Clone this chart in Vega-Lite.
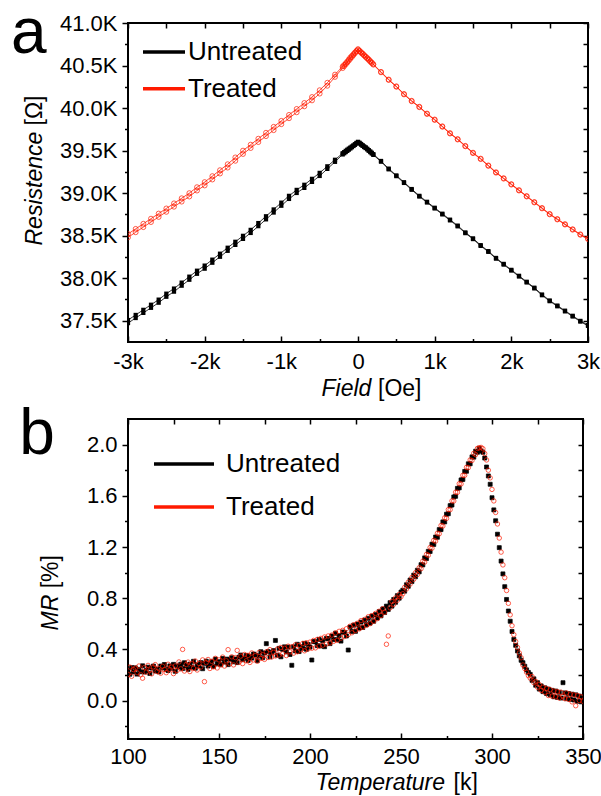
{
"$schema": "https://vega.github.io/schema/vega-lite/v6.json",
"padding": {"left": 9, "top": 0, "right": 0, "bottom": 0},
"background": "white",
"spacing": 0,
"config": {
 "font": "Liberation Sans",
 "view": {"stroke": "black", "strokeWidth": 2},
 "axis": {"domain": false, "grid": false, "labelFont": "Liberation Sans", "labelFontSize": 22, "labelColor": "black", "tickColor": "black", "tickWidth": 1.5, "titleFont": "Liberation Sans", "titleFontSize": 23, "titleColor": "black", "titleFontWeight": "normal", "labelOverlap": false, "labelFlush": false, "labelBound": false},
 "legend": {"labelFont": "Liberation Sans", "labelFontSize": 26, "labelColor": "black", "padding": 0}
},
"datasets": {
"field": [
{"H":-3000,"sw":"a","Untreated":37472,"Treated":38480},
{"H":-2900,"sw":"a","Untreated":37532,"Treated":38540},
{"H":-2800,"sw":"a","Untreated":37592,"Treated":38600},
{"H":-2700,"sw":"a","Untreated":37652,"Treated":38660},
{"H":-2600,"sw":"a","Untreated":37712,"Treated":38720},
{"H":-2500,"sw":"a","Untreated":37782,"Treated":38780},
{"H":-2400,"sw":"a","Untreated":37842,"Treated":38840},
{"H":-2300,"sw":"a","Untreated":37912,"Treated":38900},
{"H":-2200,"sw":"a","Untreated":37982,"Treated":38960},
{"H":-2100,"sw":"a","Untreated":38052,"Treated":39030},
{"H":-2000,"sw":"a","Untreated":38112,"Treated":39090},
{"H":-1900,"sw":"a","Untreated":38182,"Treated":39160},
{"H":-1800,"sw":"a","Untreated":38252,"Treated":39230},
{"H":-1700,"sw":"a","Untreated":38322,"Treated":39300},
{"H":-1600,"sw":"a","Untreated":38392,"Treated":39380},
{"H":-1500,"sw":"a","Untreated":38462,"Treated":39460},
{"H":-1400,"sw":"a","Untreated":38532,"Treated":39530},
{"H":-1300,"sw":"a","Untreated":38612,"Treated":39600},
{"H":-1200,"sw":"a","Untreated":38692,"Treated":39670},
{"H":-1100,"sw":"a","Untreated":38772,"Treated":39740},
{"H":-1000,"sw":"a","Untreated":38852,"Treated":39810},
{"H":-900,"sw":"a","Untreated":38932,"Treated":39880},
{"H":-800,"sw":"a","Untreated":39002,"Treated":39950},
{"H":-700,"sw":"a","Untreated":39062,"Treated":40020},
{"H":-600,"sw":"a","Untreated":39132,"Treated":40090},
{"H":-500,"sw":"a","Untreated":39202,"Treated":40170},
{"H":-400,"sw":"a","Untreated":39285,"Treated":40262},
{"H":-300,"sw":"a","Untreated":39368,"Treated":40366},
{"H":-200,"sw":"a","Untreated":39455,"Treated":40470},
{"H":-180,"sw":"a","Untreated":39469,"Treated":40492},
{"H":-160,"sw":"a","Untreated":39483,"Treated":40514},
{"H":-140,"sw":"a","Untreated":39497,"Treated":40535},
{"H":-120,"sw":"a","Untreated":39511,"Treated":40557},
{"H":-100,"sw":"a","Untreated":39525,"Treated":40579},
{"H":-80,"sw":"a","Untreated":39540,"Treated":40600},
{"H":-60,"sw":"a","Untreated":39554,"Treated":40622},
{"H":-40,"sw":"a","Untreated":39568,"Treated":40644},
{"H":-20,"sw":"a","Untreated":39583,"Treated":40665},
{"H":0,"sw":"a","Untreated":39597,"Treated":40687},
{"H":20,"sw":"a","Untreated":39585,"Treated":40668},
{"H":40,"sw":"a","Untreated":39570,"Treated":40650},
{"H":60,"sw":"a","Untreated":39556,"Treated":40635},
{"H":80,"sw":"a","Untreated":39542,"Treated":40617},
{"H":100,"sw":"a","Untreated":39530,"Treated":40600},
{"H":120,"sw":"a","Untreated":39515,"Treated":40582},
{"H":140,"sw":"a","Untreated":39498,"Treated":40565},
{"H":160,"sw":"a","Untreated":39482,"Treated":40545},
{"H":180,"sw":"a","Untreated":39466,"Treated":40528},
{"H":200,"sw":"a","Untreated":39450,"Treated":40510},
{"H":300,"sw":"a","Untreated":39370,"Treated":40420},
{"H":400,"sw":"a","Untreated":39280,"Treated":40330},
{"H":500,"sw":"a","Untreated":39200,"Treated":40250},
{"H":600,"sw":"a","Untreated":39120,"Treated":40160},
{"H":700,"sw":"a","Untreated":39040,"Treated":40080},
{"H":800,"sw":"a","Untreated":38960,"Treated":40010},
{"H":900,"sw":"a","Untreated":38890,"Treated":39930},
{"H":1000,"sw":"a","Untreated":38820,"Treated":39860},
{"H":1100,"sw":"a","Untreated":38750,"Treated":39780},
{"H":1200,"sw":"a","Untreated":38680,"Treated":39700},
{"H":1300,"sw":"a","Untreated":38610,"Treated":39630},
{"H":1400,"sw":"a","Untreated":38530,"Treated":39550},
{"H":1500,"sw":"a","Untreated":38460,"Treated":39470},
{"H":1600,"sw":"a","Untreated":38380,"Treated":39400},
{"H":1700,"sw":"a","Untreated":38310,"Treated":39320},
{"H":1800,"sw":"a","Untreated":38230,"Treated":39240},
{"H":1900,"sw":"a","Untreated":38160,"Treated":39170},
{"H":2000,"sw":"a","Untreated":38090,"Treated":39100},
{"H":2100,"sw":"a","Untreated":38020,"Treated":39030},
{"H":2200,"sw":"a","Untreated":37950,"Treated":38960},
{"H":2300,"sw":"a","Untreated":37880,"Treated":38890},
{"H":2400,"sw":"a","Untreated":37800,"Treated":38820},
{"H":2500,"sw":"a","Untreated":37730,"Treated":38750},
{"H":2600,"sw":"a","Untreated":37670,"Treated":38690},
{"H":2700,"sw":"a","Untreated":37610,"Treated":38630},
{"H":2800,"sw":"a","Untreated":37550,"Treated":38570},
{"H":2900,"sw":"a","Untreated":37490,"Treated":38510},
{"H":3000,"sw":"a","Untreated":37440,"Treated":38460},
{"H":-3000,"sw":"b","Untreated":37508,"Treated":38520},
{"H":-2900,"sw":"b","Untreated":37568,"Treated":38580},
{"H":-2800,"sw":"b","Untreated":37628,"Treated":38640},
{"H":-2700,"sw":"b","Untreated":37688,"Treated":38700},
{"H":-2600,"sw":"b","Untreated":37748,"Treated":38760},
{"H":-2500,"sw":"b","Untreated":37818,"Treated":38820},
{"H":-2400,"sw":"b","Untreated":37878,"Treated":38880},
{"H":-2300,"sw":"b","Untreated":37948,"Treated":38940},
{"H":-2200,"sw":"b","Untreated":38018,"Treated":39000},
{"H":-2100,"sw":"b","Untreated":38088,"Treated":39070},
{"H":-2000,"sw":"b","Untreated":38148,"Treated":39130},
{"H":-1900,"sw":"b","Untreated":38218,"Treated":39200},
{"H":-1800,"sw":"b","Untreated":38288,"Treated":39270},
{"H":-1700,"sw":"b","Untreated":38358,"Treated":39340},
{"H":-1600,"sw":"b","Untreated":38428,"Treated":39420},
{"H":-1500,"sw":"b","Untreated":38498,"Treated":39500},
{"H":-1400,"sw":"b","Untreated":38568,"Treated":39570},
{"H":-1300,"sw":"b","Untreated":38648,"Treated":39640},
{"H":-1200,"sw":"b","Untreated":38728,"Treated":39710},
{"H":-1100,"sw":"b","Untreated":38808,"Treated":39780},
{"H":-1000,"sw":"b","Untreated":38888,"Treated":39850},
{"H":-900,"sw":"b","Untreated":38968,"Treated":39920},
{"H":-800,"sw":"b","Untreated":39038,"Treated":39990},
{"H":-700,"sw":"b","Untreated":39098,"Treated":40060},
{"H":-600,"sw":"b","Untreated":39168,"Treated":40130},
{"H":-500,"sw":"b","Untreated":39238,"Treated":40210},
{"H":-400,"sw":"b","Untreated":39315,"Treated":40298},
{"H":-300,"sw":"b","Untreated":39392,"Treated":40394},
{"H":-200,"sw":"b","Untreated":39469,"Treated":40490},
{"H":-180,"sw":"b","Untreated":39482,"Treated":40508},
{"H":-160,"sw":"b","Untreated":39497,"Treated":40527},
{"H":-140,"sw":"b","Untreated":39510,"Treated":40547},
{"H":-120,"sw":"b","Untreated":39523,"Treated":40572},
{"H":-100,"sw":"b","Untreated":39535,"Treated":40595},
{"H":-80,"sw":"b","Untreated":39548,"Treated":40614},
{"H":-60,"sw":"b","Untreated":39561,"Treated":40634},
{"H":-40,"sw":"b","Untreated":39575,"Treated":40654},
{"H":-20,"sw":"b","Untreated":39590,"Treated":40674},
{"H":0,"sw":"b","Untreated":39603,"Treated":40693},
{"H":20,"sw":"b","Untreated":39592,"Treated":40675},
{"H":40,"sw":"b","Untreated":39578,"Treated":40658},
{"H":60,"sw":"b","Untreated":39563,"Treated":40642},
{"H":80,"sw":"b","Untreated":39549,"Treated":40624},
{"H":100,"sw":"b","Untreated":39538,"Treated":40606},
{"H":120,"sw":"b","Untreated":39522,"Treated":40590},
{"H":140,"sw":"b","Untreated":39506,"Treated":40573},
{"H":160,"sw":"b","Untreated":39490,"Treated":40553},
{"H":180,"sw":"b","Untreated":39474,"Treated":40536},
{"H":200,"sw":"b","Untreated":39458,"Treated":40516},
{"H":300,"sw":"b","Untreated":39378,"Treated":40426},
{"H":400,"sw":"b","Untreated":39288,"Treated":40336},
{"H":500,"sw":"b","Untreated":39208,"Treated":40256},
{"H":600,"sw":"b","Untreated":39128,"Treated":40166},
{"H":700,"sw":"b","Untreated":39048,"Treated":40086},
{"H":800,"sw":"b","Untreated":38968,"Treated":40016},
{"H":900,"sw":"b","Untreated":38898,"Treated":39936},
{"H":1000,"sw":"b","Untreated":38828,"Treated":39866},
{"H":1100,"sw":"b","Untreated":38758,"Treated":39786},
{"H":1200,"sw":"b","Untreated":38688,"Treated":39706},
{"H":1300,"sw":"b","Untreated":38618,"Treated":39636},
{"H":1400,"sw":"b","Untreated":38538,"Treated":39556},
{"H":1500,"sw":"b","Untreated":38468,"Treated":39476},
{"H":1600,"sw":"b","Untreated":38388,"Treated":39406},
{"H":1700,"sw":"b","Untreated":38318,"Treated":39326},
{"H":1800,"sw":"b","Untreated":38238,"Treated":39246},
{"H":1900,"sw":"b","Untreated":38168,"Treated":39176},
{"H":2000,"sw":"b","Untreated":38098,"Treated":39106},
{"H":2100,"sw":"b","Untreated":38028,"Treated":39036},
{"H":2200,"sw":"b","Untreated":37958,"Treated":38966},
{"H":2300,"sw":"b","Untreated":37888,"Treated":38896},
{"H":2400,"sw":"b","Untreated":37808,"Treated":38826},
{"H":2500,"sw":"b","Untreated":37738,"Treated":38756},
{"H":2600,"sw":"b","Untreated":37678,"Treated":38696},
{"H":2700,"sw":"b","Untreated":37618,"Treated":38636},
{"H":2800,"sw":"b","Untreated":37558,"Treated":38576},
{"H":2900,"sw":"b","Untreated":37498,"Treated":38516},
{"H":3000,"sw":"b","Untreated":37448,"Treated":38466}
],
"temp": [
{"T":100,"Untreated":0.240,"Treated":0.205},{"T":101,"Untreated":0.206,"Treated":0.262},{"T":102,"Untreated":0.258,"Treated":0.190},{"T":103,"Untreated":0.224,"Treated":0.242},{"T":104,"Untreated":0.256,"Treated":0.253},
{"T":105,"Untreated":0.207,"Treated":0.218},{"T":106,"Untreated":0.244,"Treated":0.270},{"T":107,"Untreated":0.225,"Treated":0.202},{"T":108,"Untreated":0.272,"Treated":0.175},{"T":109,"Untreated":0.223,"Treated":0.258},
{"T":110,"Untreated":0.235,"Treated":0.222},{"T":111,"Untreated":0.261,"Treated":0.275},{"T":112,"Untreated":0.212,"Treated":0.238},{"T":113,"Untreated":0.254,"Treated":0.209},{"T":114,"Untreated":0.270,"Treated":0.262},
{"T":115,"Untreated":0.231,"Treated":0.281},{"T":116,"Untreated":0.247,"Treated":0.227},{"T":117,"Untreated":0.224,"Treated":0.249},{"T":118,"Untreated":0.270,"Treated":0.214},{"T":119,"Untreated":0.256,"Treated":0.268},
{"T":120,"Untreated":0.282,"Treated":0.243},{"T":121,"Untreated":0.243,"Treated":0.218},{"T":122,"Untreated":0.235,"Treated":0.284},{"T":123,"Untreated":0.271,"Treated":0.243},{"T":124,"Untreated":0.252,"Treated":0.262},
{"T":125,"Untreated":0.283,"Treated":0.211},{"T":126,"Untreated":0.229,"Treated":0.271},{"T":127,"Untreated":0.271,"Treated":0.236},{"T":128,"Untreated":0.262,"Treated":0.302},{"T":129,"Untreated":0.284,"Treated":0.248},
{"T":130,"Untreated":0.250,"Treated":0.400},{"T":131,"Untreated":0.296,"Treated":0.231},{"T":132,"Untreated":0.272,"Treated":0.282},{"T":133,"Untreated":0.244,"Treated":0.301},{"T":134,"Untreated":0.285,"Treated":0.227},
{"T":135,"Untreated":0.261,"Treated":0.288},{"T":136,"Untreated":0.307,"Treated":0.252},{"T":137,"Untreated":0.253,"Treated":0.309},{"T":138,"Untreated":0.280,"Treated":0.239},{"T":139,"Untreated":0.271,"Treated":0.290},
{"T":140,"Untreated":0.297,"Treated":0.262},{"T":141,"Untreated":0.249,"Treated":0.318},{"T":142,"Untreated":0.291,"Treated":0.148},{"T":143,"Untreated":0.308,"Treated":0.296},{"T":144,"Untreated":0.270,"Treated":0.321},
{"T":145,"Untreated":0.287,"Treated":0.251},{"T":146,"Untreated":0.304,"Treated":0.307},{"T":147,"Untreated":0.267,"Treated":0.264},{"T":148,"Untreated":0.324,"Treated":0.330},{"T":149,"Untreated":0.287,"Treated":0.255},
{"T":150,"Untreated":0.304,"Treated":0.318},{"T":151,"Untreated":0.281,"Treated":0.279},{"T":152,"Untreated":0.329,"Treated":0.340},{"T":153,"Untreated":0.301,"Treated":0.270},{"T":154,"Untreated":0.324,"Treated":0.311},
{"T":155,"Untreated":0.281,"Treated":0.398},{"T":156,"Untreated":0.323,"Treated":0.288},{"T":157,"Untreated":0.335,"Treated":0.342},{"T":158,"Untreated":0.303,"Treated":0.279},{"T":159,"Untreated":0.325,"Treated":0.336},
{"T":160,"Untreated":0.297,"Treated":0.392},{"T":161,"Untreated":0.339,"Treated":0.300},{"T":162,"Untreated":0.356,"Treated":0.347},{"T":163,"Untreated":0.319,"Treated":0.289},{"T":164,"Untreated":0.331,"Treated":0.360},
{"T":165,"Untreated":0.353,"Treated":0.311},{"T":166,"Untreated":0.314,"Treated":0.353},{"T":167,"Untreated":0.346,"Treated":0.298},{"T":168,"Untreated":0.332,"Treated":0.372},{"T":169,"Untreated":0.364,"Treated":0.318},
{"T":170,"Untreated":0.355,"Treated":0.351},{"T":171,"Untreated":0.312,"Treated":0.308},{"T":172,"Untreated":0.350,"Treated":0.376},{"T":173,"Untreated":0.382,"Treated":0.329},{"T":174,"Untreated":0.335,"Treated":0.358},
{"T":175,"Untreated":0.372,"Treated":0.322},{"T":176,"Untreated":0.445,"Treated":0.381},{"T":177,"Untreated":0.383,"Treated":0.337},{"T":178,"Untreated":0.342,"Treated":0.398},{"T":179,"Untreated":0.375,"Treated":0.341},
{"T":180,"Untreated":0.391,"Treated":0.377},{"T":181,"Untreated":0.470,"Treated":0.349},{"T":182,"Untreated":0.355,"Treated":0.402},{"T":183,"Untreated":0.408,"Treated":0.356},{"T":184,"Untreated":0.342,"Treated":0.415},
{"T":185,"Untreated":0.400,"Treated":0.365},{"T":186,"Untreated":0.420,"Treated":0.409},{"T":187,"Untreated":0.380,"Treated":0.352},{"T":188,"Untreated":0.418,"Treated":0.425},{"T":189,"Untreated":0.360,"Treated":0.381},
{"T":190,"Untreated":0.276,"Treated":0.420},{"T":191,"Untreated":0.420,"Treated":0.371},{"T":192,"Untreated":0.388,"Treated":0.436},{"T":193,"Untreated":0.440,"Treated":0.382},{"T":194,"Untreated":0.383,"Treated":0.430},
{"T":195,"Untreated":0.420,"Treated":0.398},{"T":196,"Untreated":0.409,"Treated":0.446},{"T":197,"Untreated":0.447,"Treated":0.389},{"T":198,"Untreated":0.401,"Treated":0.452},{"T":199,"Untreated":0.439,"Treated":0.404},
{"T":200,"Untreated":0.418,"Treated":0.457},{"T":201,"Untreated":0.317,"Treated":0.409},{"T":202,"Untreated":0.461,"Treated":0.470},{"T":203,"Untreated":0.460,"Treated":0.412},{"T":204,"Untreated":0.429,"Treated":0.478},
{"T":205,"Untreated":0.478,"Treated":0.426},{"T":206,"Untreated":0.427,"Treated":0.486},{"T":207,"Untreated":0.467,"Treated":0.433},{"T":208,"Untreated":0.421,"Treated":0.497},{"T":209,"Untreated":0.486,"Treated":0.442},
{"T":210,"Untreated":0.485,"Treated":0.505},{"T":211,"Untreated":0.445,"Treated":0.451},{"T":212,"Untreated":0.505,"Treated":0.512},{"T":213,"Untreated":0.476,"Treated":0.463},{"T":214,"Untreated":0.526,"Treated":0.529},
{"T":215,"Untreated":0.476,"Treated":0.471},{"T":216,"Untreated":0.508,"Treated":0.541},{"T":217,"Untreated":0.465,"Treated":0.488},{"T":218,"Untreated":0.536,"Treated":0.549},{"T":219,"Untreated":0.533,"Treated":0.501},
{"T":220,"Untreated":0.505,"Treated":0.561},{"T":221,"Untreated":0.395,"Treated":0.515},{"T":222,"Untreated":0.575,"Treated":0.581},{"T":223,"Untreated":0.540,"Treated":0.530},{"T":224,"Untreated":0.589,"Treated":0.592},
{"T":225,"Untreated":0.541,"Treated":0.548},{"T":226,"Untreated":0.598,"Treated":0.604},{"T":227,"Untreated":0.566,"Treated":0.560},{"T":228,"Untreated":0.613,"Treated":0.625},{"T":229,"Untreated":0.571,"Treated":0.574},
{"T":230,"Untreated":0.628,"Treated":0.634},{"T":231,"Untreated":0.592,"Treated":0.588},{"T":232,"Untreated":0.643,"Treated":0.655},{"T":233,"Untreated":0.605,"Treated":0.601},{"T":234,"Untreated":0.660,"Treated":0.664},
{"T":235,"Untreated":0.620,"Treated":0.620},{"T":236,"Untreated":0.672,"Treated":0.681},{"T":237,"Untreated":0.645,"Treated":0.640},{"T":238,"Untreated":0.695,"Treated":0.698},{"T":239,"Untreated":0.662,"Treated":0.665},
{"T":240,"Untreated":0.716,"Treated":0.718},{"T":241,"Untreated":0.688,"Treated":0.690},{"T":242,"Untreated":0.738,"Treated":0.440},{"T":243,"Untreated":0.712,"Treated":0.505},{"T":244,"Untreated":0.765,"Treated":0.725},
{"T":245,"Untreated":0.738,"Treated":0.775},{"T":246,"Untreated":0.790,"Treated":0.752},{"T":247,"Untreated":0.768,"Treated":0.802},{"T":248,"Untreated":0.820,"Treated":0.784},{"T":249,"Untreated":0.800,"Treated":0.830},
{"T":250,"Untreated":0.848,"Treated":0.812},{"T":251,"Untreated":0.862,"Treated":0.835},{"T":252,"Untreated":0.855,"Treated":0.885},{"T":253,"Untreated":0.905,"Treated":0.872},{"T":254,"Untreated":0.893,"Treated":0.925},
{"T":255,"Untreated":0.942,"Treated":0.910},{"T":256,"Untreated":0.930,"Treated":0.962},{"T":257,"Untreated":0.980,"Treated":0.948},{"T":258,"Untreated":0.968,"Treated":1.000},{"T":259,"Untreated":1.018,"Treated":0.985},
{"T":260,"Untreated":1.006,"Treated":1.038},{"T":261,"Untreated":1.062,"Treated":1.030},{"T":262,"Untreated":1.060,"Treated":1.090},{"T":263,"Untreated":1.115,"Treated":1.082},{"T":264,"Untreated":1.110,"Treated":1.142},
{"T":265,"Untreated":1.166,"Treated":1.135},{"T":266,"Untreated":1.165,"Treated":1.196},{"T":267,"Untreated":1.222,"Treated":1.190},{"T":268,"Untreated":1.220,"Treated":1.252},{"T":269,"Untreated":1.278,"Treated":1.246},
{"T":270,"Untreated":1.276,"Treated":1.307},{"T":271,"Untreated":1.336,"Treated":1.303},{"T":272,"Untreated":1.336,"Treated":1.368},{"T":273,"Untreated":1.396,"Treated":1.364},{"T":274,"Untreated":1.396,"Treated":1.428},
{"T":275,"Untreated":1.456,"Treated":1.423},{"T":276,"Untreated":1.460,"Treated":1.492},{"T":277,"Untreated":1.523,"Treated":1.492},{"T":278,"Untreated":1.528,"Treated":1.560},{"T":279,"Untreated":1.591,"Treated":1.560},
{"T":280,"Untreated":1.596,"Treated":1.628},{"T":281,"Untreated":1.658,"Treated":1.627},{"T":282,"Untreated":1.662,"Treated":1.694},{"T":283,"Untreated":1.724,"Treated":1.693},{"T":284,"Untreated":1.728,"Treated":1.760},
{"T":285,"Untreated":1.790,"Treated":1.760},{"T":286,"Untreated":1.792,"Treated":1.822},{"T":287,"Untreated":1.850,"Treated":1.820},{"T":288,"Untreated":1.850,"Treated":1.880},{"T":289,"Untreated":1.904,"Treated":1.876},
{"T":290,"Untreated":1.902,"Treated":1.932},{"T":291,"Untreated":1.948,"Treated":1.922},{"T":292,"Untreated":1.940,"Treated":1.970},{"T":293,"Untreated":1.972,"Treated":1.975},{"T":294,"Untreated":1.950,"Treated":1.978},
{"T":295,"Untreated":1.940,"Treated":1.968},{"T":296,"Untreated":1.895,"Treated":1.930},{"T":297,"Untreated":1.825,"Treated":1.880},{"T":298,"Untreated":1.755,"Treated":1.800},{"T":299,"Untreated":1.690,"Treated":1.740},
{"T":300,"Untreated":1.585,"Treated":1.650},{"T":301,"Untreated":1.490,"Treated":1.560},{"T":302,"Untreated":1.405,"Treated":1.470},{"T":303,"Untreated":1.300,"Treated":1.380},{"T":304,"Untreated":1.195,"Treated":1.270},
{"T":305,"Untreated":1.090,"Treated":1.160},{"T":306,"Untreated":0.990,"Treated":1.060},{"T":307,"Untreated":0.890,"Treated":0.960},{"T":308,"Untreated":0.790,"Treated":0.860},{"T":309,"Untreated":0.700,"Treated":0.760},
{"T":310,"Untreated":0.620,"Treated":0.670},{"T":311,"Untreated":0.540,"Treated":0.585},{"T":312,"Untreated":0.478,"Treated":0.515},{"T":313,"Untreated":0.432,"Treated":0.462},{"T":314,"Untreated":0.388,"Treated":0.415},
{"T":315,"Untreated":0.350,"Treated":0.372},{"T":316,"Untreated":0.315,"Treated":0.335},{"T":317,"Untreated":0.296,"Treated":0.278},{"T":318,"Untreated":0.268,"Treated":0.250},{"T":319,"Untreated":0.240,"Treated":0.222},
{"T":320,"Untreated":0.220,"Treated":0.195},{"T":321,"Untreated":0.205,"Treated":0.175},{"T":322,"Untreated":0.158,"Treated":0.188},{"T":323,"Untreated":0.170,"Treated":0.140},{"T":324,"Untreated":0.120,"Treated":0.150},
{"T":325,"Untreated":0.140,"Treated":0.105},{"T":326,"Untreated":0.090,"Treated":0.125},{"T":327,"Untreated":0.115,"Treated":0.080},{"T":328,"Untreated":0.070,"Treated":0.105},{"T":329,"Untreated":0.100,"Treated":0.065},
{"T":330,"Untreated":0.055,"Treated":0.095},{"T":331,"Untreated":0.090,"Treated":0.040},{"T":332,"Untreated":0.045,"Treated":0.085},{"T":333,"Untreated":0.080,"Treated":0.035},{"T":334,"Untreated":0.030,"Treated":0.075},
{"T":335,"Untreated":0.075,"Treated":0.030},{"T":336,"Untreated":0.025,"Treated":0.070},{"T":337,"Untreated":0.065,"Treated":0.020},{"T":338,"Untreated":0.020,"Treated":0.065},{"T":339,"Untreated":0.140,"Treated":0.035},
{"T":340,"Untreated":0.060,"Treated":0.015},{"T":341,"Untreated":0.015,"Treated":0.060},{"T":342,"Untreated":0.055,"Treated":0.010},{"T":343,"Untreated":0.010,"Treated":0.050},{"T":344,"Untreated":0.050,"Treated":-0.010},
{"T":345,"Untreated":0.005,"Treated":0.045},{"T":346,"Untreated":0.045,"Treated":-0.040},{"T":347,"Untreated":-0.005,"Treated":0.040},{"T":348,"Untreated":0.035,"Treated":0.000},{"T":349,"Untreated":-0.010,"Treated":0.030},
{"T":350,"Untreated":0.020,"Treated":-0.005}
]
},
"vconcat": [
{
 "width": 460, "height": 319,
 "data": {"name": "field"},
 "transform": [{"fold": ["Untreated", "Treated"], "as": ["series", "R"]}],
 "layer": [
  {
   "mark": {"type": "line", "strokeWidth": 0.8, "clip": true},
   "encoding": {
    "x": {"field": "H", "type": "quantitative", "scale": {"domain": [-3000, 3000], "nice": false, "zero": false},
      "axis": {"orient": "bottom", "values": [-3000, -2000, -1000, 0, 1000, 2000, 3000], "labelExpr": "datum.value == 0 ? '0' : (datum.value/1000) + 'k'", "tickSize": -6, "labelPadding": 15, "title": "Field", "titleFontStyle": "italic", "titleX": 193, "titleY": 53, "titleAlign": "left", "titleBaseline": "alphabetic"}},
    "y": {"field": "R", "type": "quantitative", "scale": {"domain": [37250, 41000], "nice": false, "zero": false},
      "axis": {"orient": "left", "values": [37500, 38000, 38500, 39000, 39500, 40000, 40500, 41000], "labelExpr": "format(datum.value/1000, '.1f') + 'K'", "tickSize": 6, "labelPadding": 5, "title": "Resistence", "titleFontStyle": "italic", "titleAngle": 270, "titleX": -87, "titleY": 222, "titleAlign": "left", "titleBaseline": "alphabetic"}},
    "color": {"field": "series", "type": "nominal", "scale": {"domain": ["Untreated", "Treated"], "range": ["#000000", "#ff1a00"]},
      "legend": {"title": null, "orient": "none", "legendX": 23, "legendY": 16, "symbolType": "M-3,0H3", "symbolSize": 196, "symbolStrokeWidth": 3.5, "labelOffset": 11, "rowPadding": 10.7, "labelFontSize": 26}},
    "detail": {"field": "sw", "type": "nominal"}
   }
  },
  {
   "transform": [{"filter": "datum.series == 'Untreated'"}],
   "mark": {"type": "point", "shape": "square", "filled": true, "size": 18, "color": "#000000", "opacity": 1, "clip": true},
   "encoding": {
    "x": {"field": "H", "type": "quantitative", "axis": {"orient": "top", "values": [-3000, -2500, -2000, -1500, -1000, -500, 0, 500, 1000, 1500, 2000, 2500, 3000], "labels": false, "tickSize": -5, "title": "a", "titleFontSize": 64, "titleX": -117.5, "titleY": 29, "titleAlign": "left", "titleBaseline": "alphabetic", "titleAngle": 0}},
    "y": {"field": "R", "type": "quantitative", "axis": {"orient": "right", "values": [37500, 37750, 38000, 38250, 38500, 38750, 39000, 39250, 39500, 39750, 40000, 40250, 40500, 40750, 41000], "labels": false, "tickSize": -5, "title": null}}
   }
  },
  {
   "transform": [{"filter": "datum.series == 'Treated'"}],
   "mark": {"type": "point", "shape": "circle", "filled": false, "size": 24, "strokeWidth": 0.7, "color": "#ff1a00", "opacity": 1, "clip": true},
   "encoding": {
    "x": {"field": "H", "type": "quantitative", "axis": {"orient": "bottom", "values": [-2500, -1500, -500, 500, 1500, 2500], "labels": false, "tickSize": -3.5, "title": "[Oe]", "titleX": 249.5, "titleY": 53, "titleAlign": "left", "titleBaseline": "alphabetic"}},
    "y": {"field": "R", "type": "quantitative", "axis": {"orient": "left", "values": [37750, 38250, 38750, 39250, 39750, 40250, 40750], "labels": false, "tickSize": 3.5, "title": "[Ω]", "titleAngle": 270, "titleX": -87, "titleY": 102, "titleAlign": "left", "titleBaseline": "alphabetic"}}
   }
  }
 ],
 "resolve": {"axis": {"x": "independent", "y": "independent"}}
},
{
 "width": 455, "height": 320,
 "data": {"name": "temp"},
 "transform": [{"fold": ["Untreated", "Treated"], "as": ["series", "MR"]}],
 "layer": [
  {
   "transform": [{"filter": "datum.series == 'Untreated'"}],
   "mark": {"type": "point", "shape": "square", "filled": true, "size": 16, "color": "#000000", "opacity": 1, "clip": true},
   "encoding": {
    "x": {"field": "T", "type": "quantitative", "scale": {"domain": [100, 350], "nice": false, "zero": false},
      "axis": {"orient": "top", "values": [100, 125, 150, 175, 200, 225, 250, 275, 300, 325, 350], "labels": false, "tickSize": -5, "title": "b", "titleFontSize": 64, "titleX": -109.3, "titleY": 34, "titleAlign": "left", "titleBaseline": "alphabetic", "titleAngle": 0}},
    "y": {"field": "MR", "type": "quantitative", "scale": {"domain": [-0.3, 2.2], "nice": false, "zero": false},
      "axis": {"orient": "right", "values": [-0.2, 0, 0.2, 0.4, 0.6, 0.8, 1.0, 1.2, 1.4, 1.6, 1.8, 2.0], "labels": false, "tickSize": -5, "title": null}}
   }
  },
  {
   "transform": [{"filter": "datum.series == 'Untreated'"}],
   "mark": {"type": "point", "shape": "square", "filled": false, "size": 16, "strokeWidth": 0.7, "opacity": 1, "clip": true},
   "encoding": {
    "x": {"field": "T", "type": "quantitative",
      "axis": {"orient": "bottom", "values": [100, 150, 200, 250, 300, 350], "tickSize": -6, "labelPadding": 13, "title": "Temperature", "titleFontStyle": "italic", "titleX": 187, "titleY": 50, "titleAlign": "left", "titleBaseline": "alphabetic"}},
    "y": {"field": "MR", "type": "quantitative",
      "axis": {"orient": "left", "values": [0, 0.4, 0.8, 1.2, 1.6, 2.0], "format": ".1f", "tickSize": 6, "labelPadding": 5, "title": "MR", "titleFontStyle": "italic", "titleAngle": 270, "titleX": -71, "titleY": 211, "titleAlign": "left", "titleBaseline": "alphabetic"}},
    "color": {"field": "series", "type": "nominal", "scale": {"domain": ["Untreated", "Treated"], "range": ["#000000", "#ff1a00"]},
      "legend": {"title": null, "orient": "none", "legendX": 43, "legendY": 32, "symbolType": "M-3,0H3", "symbolSize": 400, "symbolStrokeWidth": 3.5, "labelOffset": 29, "rowPadding": 17, "labelFontSize": 26}}
   }
  },
  {
   "transform": [{"filter": "datum.series == 'Treated'"}],
   "mark": {"type": "point", "shape": "circle", "filled": false, "size": 20, "strokeWidth": 0.7, "opacity": 1, "clip": true},
   "encoding": {
    "x": {"field": "T", "type": "quantitative",
      "axis": {"orient": "bottom", "values": [125, 175, 225, 275, 325], "labels": false, "tickSize": -3.5, "title": "[k]", "titleX": 325, "titleY": 50, "titleAlign": "left", "titleBaseline": "alphabetic"}},
    "y": {"field": "MR", "type": "quantitative",
      "axis": {"orient": "left", "values": [-0.2, 0.2, 0.6, 1.0, 1.4, 1.8], "labels": false, "tickSize": 3.5, "title": "[%]", "titleAngle": 270, "titleX": -71, "titleY": 168.8, "titleAlign": "left", "titleBaseline": "alphabetic"}},
    "color": {"field": "series", "type": "nominal", "scale": {"domain": ["Untreated", "Treated"], "range": ["#000000", "#ff1a00"]}, "legend": null}
   }
  }
 ],
 "resolve": {"axis": {"x": "independent", "y": "independent"}}
}
],
"resolve": {"scale": {"color": "independent"}, "legend": {"color": "independent"}}
}
